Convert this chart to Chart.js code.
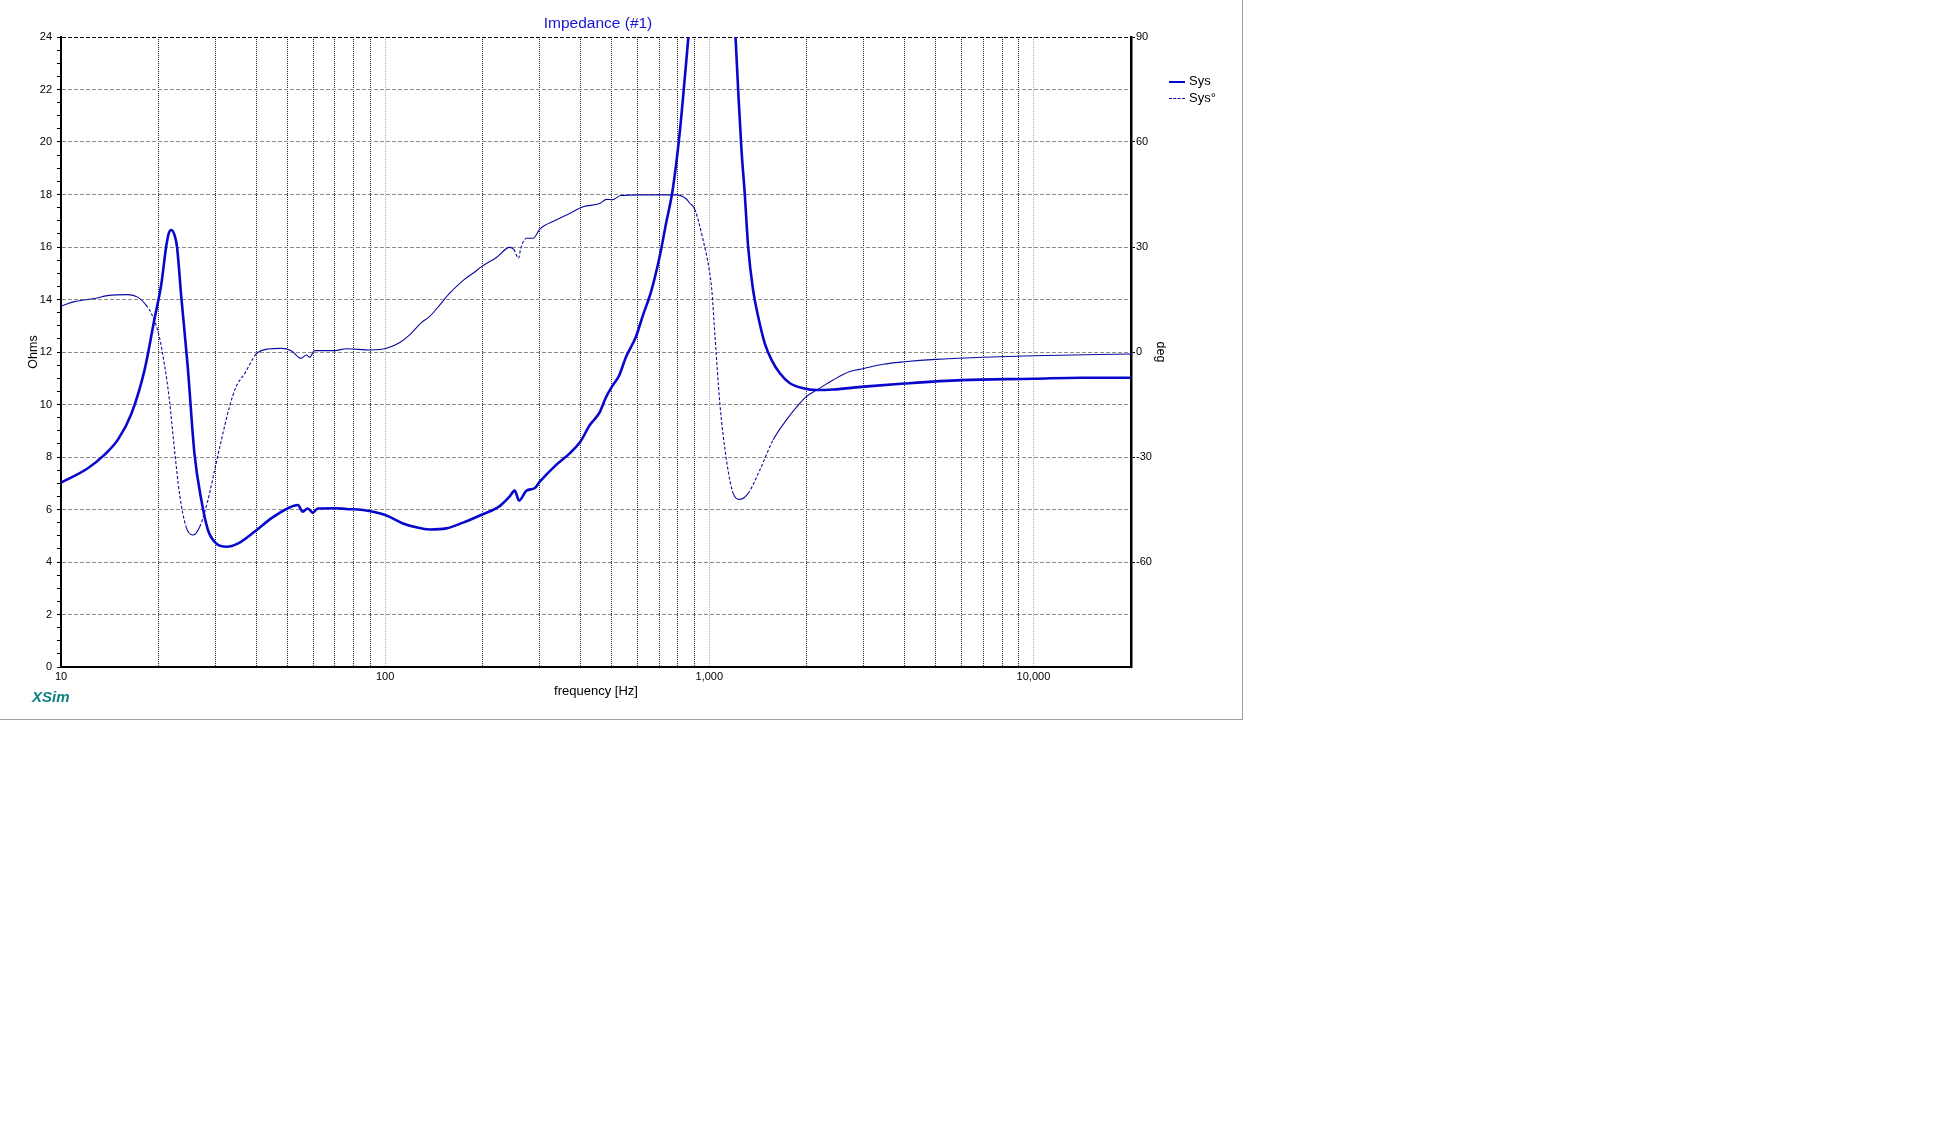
<!DOCTYPE html>
<html>
<head>
<meta charset="utf-8">
<title>Impedance (#1)</title>
<script src="https://cdn.jsdelivr.net/npm/chart.js@4.4.1/dist/chart.umd.min.js"></script>
<style>
  body { margin: 0; background: #fff; font-family: Arial, "Liberation Sans", sans-serif; }
  #frame { position: relative; width: 1242px; height: 719px; border-right: 1px solid #a0a0a0; border-bottom: 1px solid #a0a0a0; }
  #chart { position: absolute; left: 0; top: 0; }
  .legend { position: absolute; left: 1169px; font-size: 13px; color: #000; line-height: 16px; white-space: nowrap; }
  .legend .swatch { display: inline-block; width: 16px; height: 0; vertical-align: middle; margin-right: 4px; }
  #xsim { position: absolute; left: 32px; top: 688px; font: italic bold 15px Arial, "Liberation Sans", sans-serif; color: #118080; }
</style>
</head>
<body>
<div id="frame">
  <canvas id="chart" width="1196" height="719"></canvas>
  <div class="legend" style="top:73px"><span class="swatch" style="border-top:2.5px solid rgb(8,8,205)"></span>Sys</div>
  <div class="legend" style="top:90px"><span class="swatch" style="border-top:1px dashed rgb(10,10,160)"></span>Sys°</div>
  <div id="xsim">XSim</div>
</div>
<script>
// Impedance magnitude (Ohms) vs frequency (Hz)
const sysFreq = [10, 12.1, 13.6, 15, 16.5, 18.1, 19.4, 20.4, 21.1, 21.5, 21.9, 22.4, 22.8, 23.5, 24.6, 25.8, 27.1, 28.4,
    30.1, 32.4, 35.2, 39.6, 44.5, 50, 53.8, 55.7, 57.7, 59.8, 62, 70, 76, 85.4, 100, 113.5, 124.7, 137, 154.4,
    173.8, 200, 225.6, 242, 251, 259, 273, 289, 300, 337, 371, 400, 428, 459, 479, 502, 527, 553, 594, 623, 661,
    702, 736, 772, 810, 840, 860, 880, 920, 980, 1050, 1120, 1170, 1205, 1231, 1257, 1287, 1318, 1365, 1415,
    1483, 1556, 1651, 1773, 1948, 2142, 2410, 3000, 4000, 6000, 10000, 14000, 20000];
const sysOhms = [7.02, 7.57, 8.08, 8.67, 9.66, 11.31, 13.22, 14.6, 16.0, 16.52, 16.65, 16.45, 16.0, 14.1, 11.44, 8.14, 6.36, 5.22,
    4.71, 4.58, 4.71, 5.16, 5.66, 6.04, 6.17, 5.92, 6.04, 5.88, 6.04, 6.05, 6.02, 5.98, 5.79, 5.47, 5.32, 5.24, 5.28,
    5.5, 5.82, 6.13, 6.49, 6.72, 6.34, 6.72, 6.81, 7.06, 7.7, 8.14, 8.58, 9.22, 9.7, 10.25, 10.7, 11.1, 11.8, 12.58, 13.37, 14.29,
    15.6, 16.91, 18.22, 20.32, 22.42, 23.86, 25.2, 29, 35, 38, 33, 27.5, 24.0, 21.7, 19.7, 18.0, 16.0, 14.36, 13.35,
    12.33, 11.7, 11.19, 10.81, 10.62, 10.55, 10.57, 10.68, 10.8, 10.93, 10.98, 11.02, 11.02];

// Impedance phase (deg) vs frequency (Hz)
const phaseFreq = [10, 11, 12.7, 13.9, 16.1, 17.3, 18.3, 19, 20.1, 20.9, 21.6, 22.4, 23.2, 24.3, 25.5, 26.8, 28.4,
    30.1, 31.6, 33.1, 34.7, 36.9, 40, 43.5, 47.8, 51.3, 55.1, 57.1, 58.5, 60.6, 70, 76, 90, 101, 111, 119, 129.4,
    137, 147.3, 158.2, 173.8, 186.6, 200, 220.5, 242, 249.3, 258, 262, 273, 286, 300, 337, 371, 408, 459, 482, 502,
    533, 608, 791, 850, 871, 902, 957, 1000, 1017, 1040, 1078, 1130, 1185, 1242, 1318, 1432, 1574, 1730, 1901,
    2000, 2142, 2410, 2714, 3000, 3439, 4000, 5000, 7000, 10000, 20000];
const phaseDeg = [13.1, 14.4, 15.3, 16.1, 16.4, 15.6, 13.4, 11.0, 4.4, -4.2, -13.7, -28, -40.4, -49.9, -52.3, -49.9, -42.3,
    -31.8, -23.2, -15.6, -9.9, -6.1, -0.6, 0.86, 1.05, 0.38, -1.8, -0.86, -1.5, 0.4, 0.4, 0.95, 0.57, 1.05, 2.7, 4.9, 8.4,
    10.1, 13.4, 16.8, 20.4, 22.5, 24.6, 27, 29.9, 29.3, 26.8, 29.6, 32.5, 32.5, 35.1, 37.7, 39.6, 41.5, 42.4, 43.6, 43.5,
    44.7, 44.9, 44.9, 43.7, 42.5, 40.8, 32, 23.4, 18.2, 5.3, -14.7, -30.9, -40.4, -42.1, -40.4, -33.7, -25.1, -19.4, -14.7,
    -12.6, -10.9, -8.0, -5.6, -4.7, -3.5, -2.8, -2.1, -1.5, -1.05, -0.57];

// Axis ticks
const freqTicks = [10, 20, 30, 40, 50, 60, 70, 80, 90, 100, 200, 300, 400, 500, 600, 700, 800, 900,
    1000, 2000, 3000, 4000, 5000, 6000, 7000, 8000, 9000, 10000];
const freqLabels = { 10: '10', 100: '100', 1000: '1,000', 10000: '10,000' };
const degTicks = [-90, -60, -30, 0, 30, 60, 90];

const sysColor = 'rgb(8, 8, 205)';
const phaseColor = 'rgb(10, 10, 160)';
const fontFamily = 'Arial, "Liberation Sans", sans-serif';

Chart.defaults.font.family = fontFamily;
Chart.defaults.color = '#000';

const toPoints = (xs, ys) => xs.map((x, i) => ({ x: x, y: ys[i] }));

// dashed pen only shows on steep pieces of the phase curve
const steep = (ctx) => Math.abs(ctx.p1.y - ctx.p0.y) > 1.5 * Math.abs(ctx.p1.x - ctx.p0.x);

new Chart(document.getElementById('chart'), {
    type: 'line',
    data: {
        datasets: [
            {
                label: 'Sys',
                data: toPoints(sysFreq, sysOhms),
                yAxisID: 'y',
                borderColor: sysColor,
                borderWidth: 2.6,
                pointRadius: 0,
                cubicInterpolationMode: 'monotone',
                clip: 0
            },
            {
                label: 'Sys°',
                data: toPoints(phaseFreq, phaseDeg),
                yAxisID: 'y1',
                borderColor: phaseColor,
                borderWidth: 1.1,
                pointRadius: 0,
                cubicInterpolationMode: 'monotone',
                clip: 0,
                segment: {
                    borderDash: ctx => steep(ctx) ? [3, 2] : undefined
                }
            }
        ]
    },
    options: {
        responsive: false,
        animation: false,
        layout: { padding: 0 },
        plugins: {
            legend: { display: false },
            tooltip: { enabled: false },
            title: {
                display: true,
                text: 'Impedance (#1)',
                color: 'rgb(20, 20, 210)',
                font: { size: 15.5, weight: 'normal' },
                padding: { top: 14, bottom: 4.4 }
            }
        },
        scales: {
            x: {
                type: 'logarithmic',
                position: 'bottom',
                min: 10,
                max: 20000,
                afterBuildTicks: (scale) => { scale.ticks = freqTicks.map(v => ({ value: v })); },
                afterFit: (scale) => { scale.height = 52; },
                ticks: {
                    autoSkip: false,
                    maxRotation: 0,
                    padding: 3,
                    font: { size: 11 },
                    callback: (value) => freqLabels[value] || ''
                },
                grid: {
                    drawTicks: false,
                    lineWidth: 1,
                    color: (ctx) => (ctx.tick && freqLabels[ctx.tick.value]) ? '#b0b0b0' : '#222'
                },
                border: { color: '#000', width: 2, dash: [1, 1] },
                title: {
                    display: true,
                    text: 'frequency [Hz]',
                    font: { size: 13 },
                    padding: { top: 0, bottom: 20 }
                }
            },
            y: {
                type: 'linear',
                position: 'left',
                min: 0,
                max: 24,
                afterFit: (scale) => { scale.width = 61; },
                ticks: {
                    stepSize: 0.5,
                    autoSkip: false,
                    padding: 5,
                    font: { size: 11 },
                    callback: (value) => value % 2 === 0 ? String(value) : ''
                },
                grid: {
                    lineWidth: 1,
                    tickLength: 4,
                    tickColor: '#000',
                    color: (ctx) => {
                        if (!ctx.tick || ctx.tick.value % 2 !== 0) return 'rgba(0,0,0,0)';
                        return ctx.tick.value === 24 ? '#000' : '#8c8c8c';
                    }
                },
                border: { color: '#000', width: 2, dash: [4, 2] },
                title: {
                    display: true,
                    text: 'Ohms',
                    font: { size: 12.5 },
                    padding: { top: 26, bottom: 0 }
                }
            },
            y1: {
                type: 'linear',
                position: 'right',
                min: -90,
                max: 90,
                afterBuildTicks: (scale) => { scale.ticks = degTicks.map(v => ({ value: v })); },
                afterFit: (scale) => { scale.width = 65; },
                ticks: {
                    autoSkip: false,
                    padding: 1,
                    font: { size: 11 },
                    callback: (value) => value === -90 ? '' : String(value)
                },
                grid: {
                    drawOnChartArea: false,
                    tickLength: 4,
                    tickColor: (ctx) => (ctx.tick && ctx.tick.value === -90) ? 'rgba(0,0,0,0)' : '#000'
                },
                border: { color: '#000', width: 2.5 },
                title: {
                    display: true,
                    text: 'deg',
                    font: { size: 12.5 },
                    padding: { top: 28.5, bottom: 0 }
                }
            }
        }
    }
});
</script>
</body>
</html>
